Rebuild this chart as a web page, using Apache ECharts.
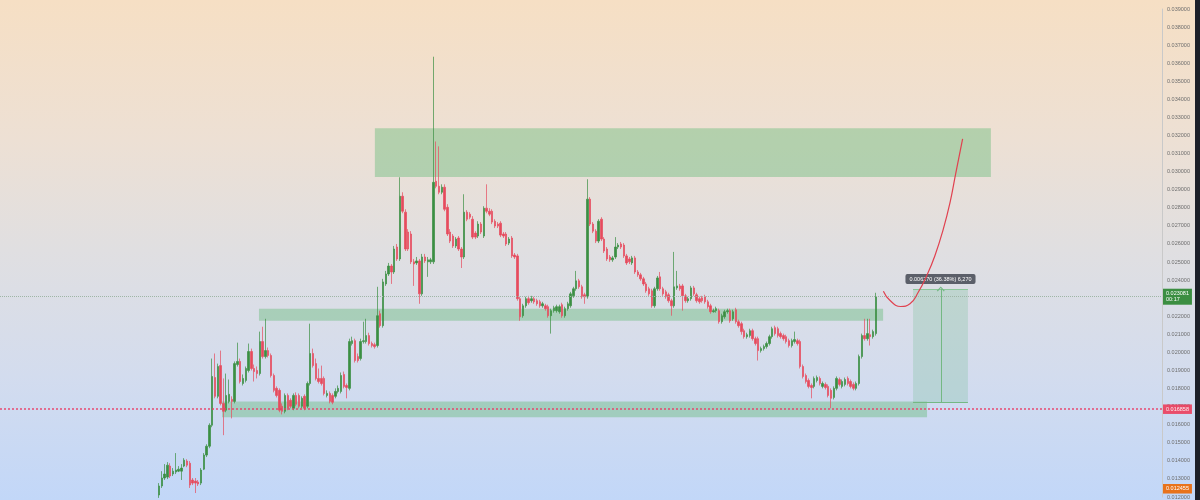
<!DOCTYPE html>
<html>
<head>
<meta charset="utf-8">
<script src="https://cdn.jsdelivr.net/npm/echarts@6/dist/echarts.min.js"></script>
<style>
html,body{margin:0;padding:0;}
#chart{width:1200px;height:500px;background:linear-gradient(to bottom,#f6dfc4 0%,#ede0d4 28%,#e0dfe1 50%,#d3dcee 75%,#c2d7f8 100%);}
</style>
</head>
<body>
<div id="chart"></div>
<script>
// OHLC candles: [open, close, low, high]
const candles = [
[0.01211,0.01261,0.01195,0.01277],[0.01261,0.01305,0.01250,0.01343],[0.01305,0.01327,0.01294,0.01382],[0.01310,0.01376,0.01299,0.01393],
[0.01371,0.01316,0.01305,0.01387],[0.01327,0.01343,0.01316,0.01360],[0.01338,0.01349,0.01327,0.01443],[0.01343,0.01354,0.01338,0.01371],
[0.01343,0.01360,0.01294,0.01382],[0.01371,0.01404,0.01365,0.01415],[0.01399,0.01376,0.01365,0.01409],[0.01387,0.01266,0.01250,0.01399],
[0.01294,0.01277,0.01266,0.01305],[0.01288,0.01277,0.01222,0.01305],[0.01283,0.01272,0.01261,0.01294],[0.01277,0.01349,0.01266,0.01360],
[0.01354,0.01432,0.01349,0.01443],[0.01432,0.01481,0.01421,0.01492],[0.01481,0.01597,0.01470,0.01608],[0.01597,0.01867,0.01586,0.01966],
[0.01861,0.01757,0.01746,0.01994],[0.01757,0.01922,0.01746,0.01938],[0.01927,0.01718,0.01707,0.02010],[0.01718,0.01674,0.01542,0.01856],
[0.01680,0.01762,0.01669,0.01883],[0.01729,0.01768,0.01718,0.01850],[0.01740,0.01729,0.01635,0.01757],[0.01729,0.01938,0.01718,0.01950],
[0.01933,0.01950,0.01922,0.02054],[0.01950,0.01839,0.01828,0.01966],[0.01828,0.01856,0.01817,0.01878],[0.01845,0.01911,0.01834,0.01922],
[0.01900,0.02005,0.01889,0.02049],[0.02005,0.01911,0.01900,0.02021],[0.01911,0.01894,0.01839,0.01933],[0.01900,0.01883,0.01856,0.01922],
[0.01883,0.02060,0.01872,0.02115],[0.02060,0.01977,0.01966,0.02142],[0.01977,0.02010,0.01966,0.02186],[0.02010,0.01983,0.01972,0.02027],
[0.01983,0.01872,0.01861,0.01994],[0.01872,0.01790,0.01779,0.01883],[0.01801,0.01762,0.01751,0.01812],[0.01790,0.01680,0.01669,0.01801],
[0.01702,0.01674,0.01657,0.01718],[0.01674,0.01762,0.01663,0.01773],[0.01762,0.01691,0.01680,0.01773],[0.01735,0.01702,0.01691,0.01746],
[0.01691,0.01762,0.01680,0.01773],[0.01762,0.01713,0.01702,0.01779],[0.01762,0.01702,0.01691,0.01773],[0.01702,0.01746,0.01691,0.01757],
[0.01757,0.01691,0.01680,0.01768],[0.01702,0.01828,0.01691,0.01839],[0.01828,0.01994,0.01817,0.02159],[0.01994,0.01927,0.01916,0.02021],
[0.01938,0.01856,0.01845,0.01966],[0.01856,0.01839,0.01828,0.01911],[0.01856,0.01828,0.01817,0.01927],[0.01856,0.01773,0.01762,0.01867],
[0.01762,0.01773,0.01751,0.01790],[0.01773,0.01729,0.01718,0.01784],[0.01762,0.01724,0.01713,0.01773],[0.01757,0.01784,0.01746,0.01801],
[0.01784,0.01801,0.01773,0.01817],[0.01784,0.01872,0.01773,0.01889],[0.01878,0.01812,0.01801,0.01894],[0.01817,0.01806,0.01746,0.01828],
[0.01801,0.02060,0.01790,0.02076],[0.02049,0.02065,0.02038,0.02087],[0.02065,0.01955,0.01944,0.02076],[0.01977,0.01955,0.01944,0.01994],
[0.01966,0.02060,0.01955,0.02076],[0.02060,0.02065,0.02049,0.02170],[0.02060,0.02093,0.02049,0.02186],[0.02093,0.02049,0.02038,0.02109],
[0.02049,0.02038,0.02027,0.02060],[0.02043,0.02032,0.02021,0.02054],[0.02038,0.02203,0.02027,0.02363],[0.02214,0.02148,0.02137,0.02231],
[0.02148,0.02390,0.02137,0.02407],[0.02379,0.02434,0.02368,0.02451],[0.02434,0.02478,0.02423,0.02495],[0.02478,0.02445,0.02379,0.02489],
[0.02445,0.02572,0.02434,0.02589],[0.02583,0.02517,0.02506,0.02600],[0.02517,0.02864,0.02506,0.02969],[0.02864,0.02781,0.02770,0.02886],
[0.02776,0.02572,0.02561,0.02792],[0.02666,0.02572,0.02561,0.02682],[0.02655,0.02501,0.02489,0.02671],[0.02501,0.02489,0.02368,0.02517],
[0.02495,0.02506,0.02484,0.02528],[0.02506,0.02324,0.02269,0.02517],[0.02324,0.02528,0.02313,0.02545],[0.02528,0.02506,0.02495,0.02545],
[0.02501,0.02512,0.02418,0.02528],[0.02501,0.02512,0.02489,0.02523],[0.02501,0.02941,0.02489,0.03636],[0.02947,0.02919,0.02908,0.03167],
[0.02919,0.02886,0.02875,0.03140],[0.02886,0.02914,0.02875,0.02930],[0.02914,0.02792,0.02781,0.02930],[0.02803,0.02655,0.02644,0.02820],
[0.02666,0.02616,0.02605,0.02682],[0.02644,0.02589,0.02578,0.02655],[0.02589,0.02627,0.02578,0.02638],[0.02633,0.02572,0.02561,0.02644],
[0.02572,0.02528,0.02467,0.02583],[0.02528,0.02776,0.02517,0.02875],[0.02776,0.02737,0.02726,0.02787],[0.02765,0.02748,0.02737,0.02776],
[0.02737,0.02638,0.02627,0.02754],[0.02660,0.02638,0.02627,0.02671],[0.02644,0.02710,0.02633,0.02726],[0.02710,0.02666,0.02655,0.02721],
[0.02644,0.02798,0.02633,0.02809],[0.02798,0.02781,0.02770,0.02930],[0.02781,0.02765,0.02754,0.02798],[0.02781,0.02721,0.02710,0.02792],
[0.02726,0.02699,0.02688,0.02737],[0.02710,0.02699,0.02688,0.02721],[0.02715,0.02649,0.02638,0.02726],[0.02655,0.02644,0.02633,0.02666],
[0.02655,0.02600,0.02589,0.02666],[0.02605,0.02627,0.02594,0.02638],[0.02633,0.02534,0.02523,0.02644],[0.02539,0.02528,0.02517,0.02550],
[0.02534,0.02297,0.02286,0.02545],[0.02297,0.02197,0.02175,0.02308],[0.02203,0.02258,0.02192,0.02269],[0.02258,0.02297,0.02247,0.02308],
[0.02297,0.02275,0.02264,0.02313],[0.02286,0.02297,0.02275,0.02313],[0.02297,0.02280,0.02269,0.02308],[0.02286,0.02269,0.02258,0.02297],
[0.02280,0.02258,0.02247,0.02291],[0.02258,0.02269,0.02247,0.02280],[0.02258,0.02242,0.02231,0.02269],[0.02253,0.02203,0.02192,0.02264],
[0.02203,0.02231,0.02104,0.02242],[0.02231,0.02247,0.02220,0.02258],[0.02231,0.02253,0.02220,0.02264],[0.02225,0.02253,0.02214,0.02264],
[0.02264,0.02203,0.02192,0.02275],[0.02203,0.02242,0.02192,0.02253],[0.02242,0.02269,0.02231,0.02280],[0.02258,0.02324,0.02247,0.02335],
[0.02313,0.02352,0.02302,0.02363],[0.02352,0.02396,0.02341,0.02451],[0.02396,0.02363,0.02352,0.02407],[0.02363,0.02308,0.02297,0.02374],
[0.02319,0.02308,0.02269,0.02330],[0.02308,0.02848,0.02297,0.02958],[0.02848,0.02710,0.02699,0.02859],[0.02710,0.02671,0.02660,0.02721],
[0.02671,0.02616,0.02605,0.02682],[0.02616,0.02726,0.02605,0.02737],[0.02737,0.02627,0.02616,0.02748],[0.02627,0.02561,0.02550,0.02638],
[0.02572,0.02517,0.02506,0.02583],[0.02528,0.02512,0.02501,0.02539],[0.02512,0.02523,0.02501,0.02534],[0.02528,0.02583,0.02517,0.02638],
[0.02583,0.02594,0.02572,0.02605],[0.02600,0.02583,0.02572,0.02611],[0.02594,0.02534,0.02523,0.02605],[0.02534,0.02495,0.02484,0.02545],
[0.02517,0.02501,0.02489,0.02528],[0.02495,0.02523,0.02484,0.02534],[0.02523,0.02445,0.02434,0.02534],[0.02445,0.02429,0.02418,0.02456],
[0.02429,0.02407,0.02396,0.02440],[0.02407,0.02379,0.02368,0.02418],[0.02379,0.02341,0.02330,0.02390],[0.02352,0.02324,0.02313,0.02363],
[0.02341,0.02258,0.02247,0.02352],[0.02258,0.02352,0.02247,0.02363],[0.02352,0.02412,0.02341,0.02423],[0.02418,0.02352,0.02341,0.02445],
[0.02352,0.02324,0.02313,0.02363],[0.02335,0.02308,0.02297,0.02346],[0.02319,0.02286,0.02275,0.02330],[0.02286,0.02258,0.02203,0.02297],
[0.02258,0.02363,0.02247,0.02556],[0.02357,0.02368,0.02346,0.02451],[0.02368,0.02352,0.02341,0.02379],[0.02368,0.02313,0.02231,0.02379],
[0.02313,0.02286,0.02275,0.02324],[0.02286,0.02297,0.02275,0.02308],[0.02297,0.02357,0.02286,0.02368],[0.02357,0.02324,0.02313,0.02368],
[0.02319,0.02286,0.02275,0.02330],[0.02297,0.02280,0.02269,0.02308],[0.02302,0.02286,0.02275,0.02313],[0.02308,0.02280,0.02269,0.02319],
[0.02280,0.02253,0.02242,0.02291],[0.02258,0.02225,0.02214,0.02269],[0.02225,0.02231,0.02220,0.02242],[0.02231,0.02242,0.02220,0.02253],
[0.02231,0.02170,0.02159,0.02242],[0.02170,0.02203,0.02159,0.02214],[0.02197,0.02225,0.02186,0.02236],[0.02225,0.02231,0.02214,0.02242],
[0.02231,0.02175,0.02164,0.02242],[0.02186,0.02225,0.02175,0.02236],[0.02236,0.02170,0.02159,0.02247],[0.02170,0.02148,0.02137,0.02181],
[0.02159,0.02115,0.02098,0.02170],[0.02120,0.02087,0.02076,0.02131],[0.02087,0.02098,0.02076,0.02109],[0.02093,0.02120,0.02082,0.02131],
[0.02120,0.02076,0.02065,0.02131],[0.02076,0.02049,0.02038,0.02087],[0.02076,0.02010,0.01955,0.02087],[0.02010,0.02021,0.01999,0.02032],
[0.02021,0.02032,0.02010,0.02043],[0.02032,0.02049,0.02021,0.02060],[0.02049,0.02087,0.02038,0.02098],[0.02087,0.02131,0.02076,0.02142],
[0.02137,0.02104,0.02093,0.02148],[0.02131,0.02093,0.02082,0.02142],[0.02104,0.02087,0.02076,0.02115],[0.02093,0.02076,0.02065,0.02104],
[0.02087,0.02060,0.02049,0.02098],[0.02065,0.02038,0.02027,0.02076],[0.02038,0.02065,0.02027,0.02076],[0.02060,0.02071,0.02049,0.02115],
[0.02065,0.02049,0.02038,0.02076],[0.02060,0.01922,0.01911,0.02071],[0.01922,0.01867,0.01856,0.01933],[0.01872,0.01839,0.01828,0.01883],
[0.01845,0.01812,0.01801,0.01856],[0.01817,0.01806,0.01746,0.01828],[0.01812,0.01856,0.01801,0.01867],[0.01845,0.01861,0.01834,0.01872],
[0.01856,0.01828,0.01817,0.01867],[0.01812,0.01828,0.01801,0.01839],[0.01823,0.01806,0.01795,0.01834],[0.01812,0.01762,0.01751,0.01823],
[0.01790,0.01746,0.01691,0.01801],[0.01751,0.01801,0.01740,0.01812],[0.01801,0.01856,0.01790,0.01867],[0.01850,0.01823,0.01812,0.01861],
[0.01812,0.01839,0.01801,0.01850],[0.01823,0.01850,0.01812,0.01861],[0.01856,0.01828,0.01817,0.01867],[0.01839,0.01812,0.01801,0.01850],
[0.01823,0.01801,0.01790,0.01834],[0.01801,0.01828,0.01790,0.01839],[0.01828,0.01977,0.01817,0.01988],[0.01977,0.02093,0.01966,0.02104],
[0.02093,0.02076,0.02065,0.02186],[0.02076,0.02104,0.02065,0.02186],[0.02098,0.02087,0.02038,0.02186],[0.02087,0.02115,0.02076,0.02126],
[0.02104,0.02308,0.02093,0.02330]
];

// Support / resistance zones: [fromBar, toBar, lowPrice, highPrice]
const zones = [
  [77.1, 297.1, 0.02970, 0.03240],
  [35.7, 258.6, 0.02175, 0.02242],
  [22.5, 274.3, 0.01641, 0.01729]
];

// Price-range measurement: [fromBar, toBar, arrowBar, fromPrice, toPrice]
const measure = [269.3, 288.9, 279.2, 0.017235, 0.023505];
const measureText = '0.006270 (36.38%) 6,270';

// Projected path drawn by hand: [bar, price]
const projection = [
  [258.7, 0.02339], [261.1, 0.02287], [264.9, 0.02254], [268.2, 0.02269],
  [271.2, 0.02334], [274.2, 0.02425], [277.1, 0.02535], [280.1, 0.02682],
  [282.5, 0.02829], [284.6, 0.02995], [287.0, 0.03182]
];

// Horizontal price levels with their axis tags
const lastPrice = 0.023081;
const lastPriceTimer = '00:17';
const markedLevel = 0.016858;
const lowLevel = 0.012455;

// Price axis and bar range
const yMin = 0.012, yMax = 0.039, yStep = 0.001;
const barsBefore = -56.79, barsAfter = 358.21;

const FONT = 'Liberation Sans';
const UP = '#3b8f42', DOWN = '#e64b5d';

const chart = echarts.init(document.getElementById('chart'), null, {renderer: 'canvas'});

const tag = (bg, text) => ({
  show: true, position: 'end', distance: 1, formatter: text,
  backgroundColor: bg, color: '#ffffff', fontSize: 5.5, fontFamily: FONT,
  padding: [2, 3, 1, 3], lineHeight: 6.5
});

// one series per horizontal level; style set at markLine level
const levelSeries = (name, price, lineStyle, label) => ({
  name: name, type: 'line', data: [], z: 2, clip: false, silent: true,
  markLine: {
    silent: true, symbol: 'none',
    lineStyle: lineStyle, label: label,
    data: [[{coord: [barsBefore, price]}, {coord: [barsAfter, price]}]]
  }
});

const chevron = 'path://M0,6 L4,0 L8,6 L7,7 L4,2 L1,7 Z';
const measureLabel = {
  show: true, position: 'insideMiddleTop', distance: 5, formatter: measureText,
  backgroundColor: '#5b5f69', color: '#ffffff', fontSize: 5.5, fontFamily: FONT,
  padding: [2, 4, 2, 4], borderRadius: 2
};
const greenSolid = {color: '#74b883', width: 1, type: 'solid'};

const option = {
  animation: false,
  backgroundColor: 'transparent',
  grid: {left: 0, top: 9, width: 1162, height: 490},
  xAxis: {type: 'value', min: barsBefore, max: barsAfter, show: false},
  yAxis: {
    type: 'value', position: 'right', min: yMin, max: yMax, interval: yStep,
    axisLine: {show: true, onZero: false, lineStyle: {color: '#c9c9c9', width: 1}},
    axisTick: {show: false},
    splitLine: {show: false},
    axisLabel: {
      show: true, margin: 5, fontSize: 5.5, fontFamily: FONT, color: '#6e6e6e',
      showMinLabel: true, showMaxLabel: true,
      formatter: v => v.toFixed(6)
    }
  },
  graphic: [{
    type: 'rect', right: 0, top: 0, z: 100,
    shape: {width: 5, height: 500}, style: {fill: '#1c1f28'}
  }],
  series: [
    {
      name: 'zones', type: 'line', data: [], z: 1, clip: false, silent: true,
      markArea: {
        silent: true,
        data: zones.map(z => [
          {coord: [z[0], z[3]], itemStyle: {color: 'rgba(100,185,120,0.42)'}},
          {coord: [z[1], z[2]]}
        ]).concat([[
          {coord: [measure[0], measure[4]], itemStyle: {color: 'rgba(120,190,150,0.28)'}},
          {coord: [measure[1], measure[3]]}
        ]])
      }
    },
    levelSeries('marked level', markedLevel, {color: '#ea3a64', type: [2, 2], width: 1.5, opacity: 0.9},
      tag('#ec3d5c', markedLevel.toFixed(6))),
    levelSeries('last price', lastPrice, {color: '#9fb6a6', type: 'dotted', width: 1},
      tag('#3b8e41', lastPrice.toFixed(6) + '\n' + lastPriceTimer)),
    levelSeries('low', lowLevel, {color: 'rgba(0,0,0,0)', type: 'solid', width: 1},
      tag('#e8731c', lowLevel.toFixed(6))),
    {
      name: 'price', type: 'candlestick', z: 3, clip: false,
      barWidth: 2,
      encode: {x: 0, y: [1, 2, 3, 4]},
      data: candles.map((c, i) => [i, c[0], c[1], c[2], c[3]]),
      itemStyle: {color: UP, color0: DOWN, borderColor: UP, borderColor0: DOWN, borderWidth: 0.7}
    },
    {
      name: 'measure', type: 'line', data: [], z: 4, clip: false, silent: true,
      markLine: {
        silent: true, symbol: 'none',
        data: [
          [{coord: [measure[0], measure[3]], lineStyle: greenSolid, label: {show: false}},
           {coord: [measure[1], measure[3]], lineStyle: greenSolid, label: {show: false}}],
          [{coord: [measure[0], measure[4]], lineStyle: {color: '#8cc79a', width: 1, type: 'solid'}, label: measureLabel},
           {coord: [measure[1], measure[4]], lineStyle: {color: '#8cc79a', width: 1, type: 'solid'}, label: measureLabel}],
          [{coord: [measure[2], measure[3]], symbol: 'none', lineStyle: greenSolid, label: {show: false}},
           {coord: [measure[2], measure[4]], symbol: chevron, symbolSize: [8, 5], lineStyle: greenSolid, label: {show: false}}]
        ]
      }
    },
    {
      name: 'projection', type: 'line', z: 5, clip: false, silent: true,
      data: projection, smooth: true, symbol: 'none',
      lineStyle: {color: '#e0414f', width: 1.2}
    }
  ]
};

chart.setOption(option);
</script>
</body>
</html>
